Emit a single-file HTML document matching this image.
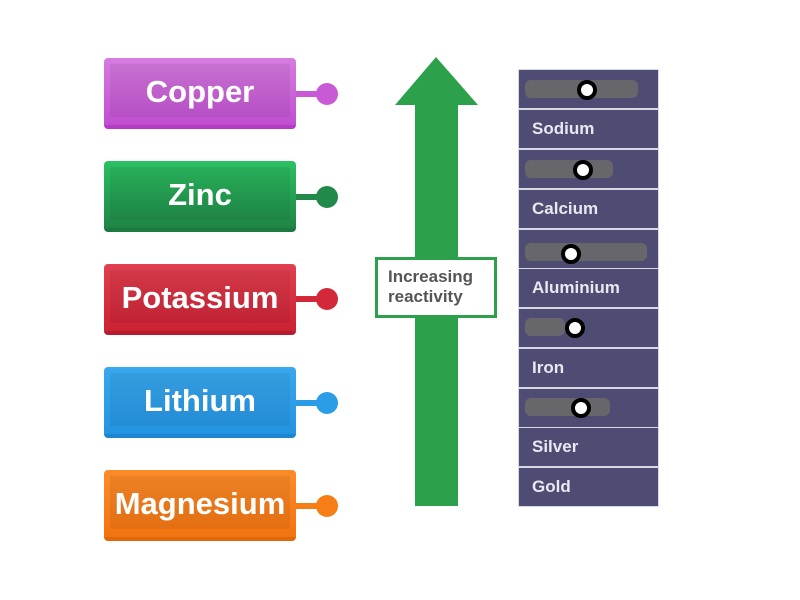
<!DOCTYPE html>
<html><head><meta charset="utf-8"><style>
body{margin:0;width:800px;height:600px;background:#fff;position:relative;overflow:hidden;font-family:"Liberation Sans",sans-serif}
.b{position:absolute;left:104px;width:192px;height:71px;border-radius:4px;color:#fff;font-weight:bold;font-size:31px;text-align:center;line-height:68px;box-sizing:border-box}
.b span{position:relative}
.b:before{content:"";position:absolute;left:6px;right:6px;top:6px;bottom:8px;border-radius:2px;background:rgba(0,0,0,0.06)}
.ln{position:absolute;left:296px;width:28px;height:6px}
.dt{position:absolute;left:316px;width:22px;height:22px;border-radius:50%}
.row{position:absolute;left:519px;width:139px;height:38px;background:#4e4c72;color:#e8e8f0;font-weight:bold;font-size:17px;line-height:38px;padding-left:13px;box-sizing:border-box}
.sm{position:absolute;height:18px;background:#6a6a6a;border-radius:6px;opacity:.9}
.od{position:absolute;width:12px;height:12px;border:4px solid #000;background:#fff;border-radius:50%}
</style></head><body>
<div class="b" style="top:58px;background:linear-gradient(#d67ce0,#c04fd0);border-bottom:4px solid #b43cc6"><span>Copper</span></div>
<div class="ln" style="top:91px;background:#c95ad6"></div><div class="dt" style="top:83px;background:#c95ad6"></div>
<div class="b" style="top:161px;background:linear-gradient(#2cc062,#1f8546);border-bottom:4px solid #1c7a40"><span>Zinc</span></div>
<div class="ln" style="top:194px;background:#218a4a"></div><div class="dt" style="top:186px;background:#218a4a"></div>
<div class="b" style="top:264px;background:linear-gradient(#e0404f,#cc2234);border-bottom:4px solid #b81c2c"><span>Potassium</span></div>
<div class="ln" style="top:296px;background:#d2283a"></div><div class="dt" style="top:288px;background:#d2283a"></div>
<div class="b" style="top:367px;background:linear-gradient(#3aa8ee,#2494e2);border-bottom:4px solid #1e86d0"><span>Lithium</span></div>
<div class="ln" style="top:400px;background:#2a9de6"></div><div class="dt" style="top:392px;background:#2a9de6"></div>
<div class="b" style="top:470px;background:linear-gradient(#fb8c2a,#f27410);border-bottom:4px solid #e0680a"><span>Magnesium</span></div>
<div class="ln" style="top:503px;background:#f77d16"></div><div class="dt" style="top:495px;background:#f77d16"></div>

<svg style="position:absolute;left:0;top:0" width="800" height="600">
<polygon points="436,57 478,105 458,105 458,506 415,506 415,105 395,105" fill="#2ca04b"/>
</svg>
<div style="position:absolute;left:375px;top:257px;width:122px;height:61px;box-sizing:border-box;border:3px solid #2ca04b;background:#fff;color:#555;font-weight:bold;font-size:17px;line-height:20px;padding:7px 0 0 10px">Increasing<br>reactivity</div>

<div style="position:absolute;left:518px;top:69px;width:141px;height:438px;background:#d8d8e4"></div>
<div class="row" style="top:70px"></div>
<div class="row" style="top:110px">Sodium</div>
<div class="row" style="top:150px"></div>
<div class="row" style="top:190px">Calcium</div>
<div class="row" style="top:230px"></div>
<div class="row" style="top:269px">Aluminium</div>
<div class="row" style="top:309px"></div>
<div class="row" style="top:349px">Iron</div>
<div class="row" style="top:389px"></div>
<div class="row" style="top:428px">Silver</div>
<div class="row" style="top:468px">Gold</div>
<div class="sm" style="left:525px;top:80px;width:113px"></div>
<div class="sm" style="left:525px;top:160px;width:88px"></div>
<div class="sm" style="left:525px;top:243px;width:122px"></div>
<div class="sm" style="left:525px;top:318px;width:40px"></div>
<div class="sm" style="left:525px;top:398px;width:85px"></div>
<div class="od" style="left:577px;top:80px"></div>
<div class="od" style="left:573px;top:160px"></div>
<div class="od" style="left:561px;top:244px"></div>
<div class="od" style="left:565px;top:318px"></div>
<div class="od" style="left:571px;top:398px"></div>
</body></html>
